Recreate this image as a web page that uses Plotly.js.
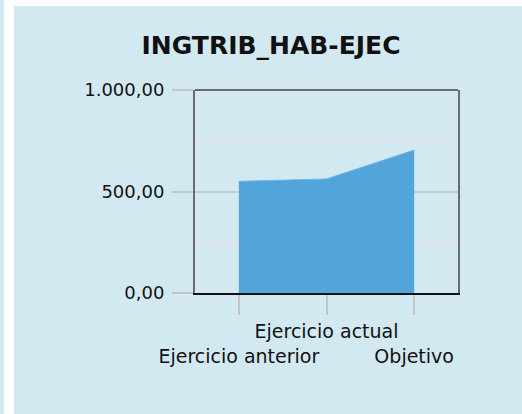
<!DOCTYPE html>
<html>
<head>
<meta charset="utf-8">
<script src="https://cdn.plot.ly/plotly-3.0.1.min.js"></script>
<style>
  html, body { margin: 0; padding: 0; background: #ffffff; width: 522px; height: 414px; overflow: hidden; }
  #strip { position: absolute; left: 0; top: 0; width: 4px; height: 414px; background: #d3e9f1; }
  #chart { position: absolute; left: 14px; top: 6px; width: 508px; height: 408px; }
</style>
</head>
<body>
<div id="strip"></div>
<div id="chart"></div>
<script>
const categories = ["Ejercicio anterior", "Ejercicio actual", "Objetivo"];
const tickLabels = ["<br>Ejercicio anterior", "Ejercicio actual", "<br>Objetivo"];
const values = [550, 562, 704];
const yTicks = [0, 500, 1000];

const trace = {
  type: "scatter",
  mode: "lines",
  x: categories,
  y: values,
  fill: "tozeroy",
  fillcolor: "#52a5db",
  line: { color: "#6cb6e6", width: 1 },
  hoverinfo: "x+y"
};

const layout = {
  width: 508,
  height: 408,
  paper_bgcolor: "#d3e9f1",
  plot_bgcolor: "#d3e9f1",
  separators: ",.",
  font: { family: "DejaVu Sans", color: "#111111", size: 18 },
  margin: { l: 181, r: 64, t: 84, b: 121, pad: 0 },
  showlegend: false,
  title: {
    text: "<b>INGTRIB_HAB-EJEC</b>",
    font: { family: "DejaVu Sans", size: 25, color: "#111111" },
    xref: "container", x: 0.506, xanchor: "center",
    yref: "container", y: 0.904, yanchor: "middle"
  },
  xaxis: {
    type: "category",
    range: [-0.5, 2.5],
    tickmode: "array",
    tickvals: categories,
    ticktext: tickLabels,
    tickangle: 0,
    ticks: "outside",
    ticklen: 20,
    tickwidth: 2,
    tickcolor: "#c4c4c4",
    tickfont: { family: "DejaVu Sans", size: 19, color: "#111111" },
    showgrid: false,
    showline: true,
    linecolor: "#111111",
    linewidth: 2,
    mirror: false,
    zeroline: false,
    fixedrange: true
  },
  yaxis: {
    range: [0, 1000],
    tickmode: "array",
    tickvals: yTicks,
    tickformat: ",.2f",
    ticks: "outside",
    ticklen: 21,
    tickwidth: 2,
    tickcolor: "#c4c4c4",
    ticklabelstandoff: 4,
    showgrid: true,
    gridcolor: "#c8c8c8",
    gridwidth: 2,
    minor: { dtick: 250, tick0: 0, showgrid: true, gridcolor: "#e2e2e2", gridwidth: 2, ticks: "" },
    showline: true,
    linecolor: "#6b6b6b",
    linewidth: 2,
    mirror: true,
    zeroline: false,
    fixedrange: true
  },
  shapes: [
    { type: "line", xref: "paper", yref: "paper", x0: 0, x1: 1, y0: 1, y1: 1,
      line: { color: "#6b6b6b", width: 2 }, layer: "above" }
  ]
};

Plotly.newPlot("chart", [trace], layout, { displayModeBar: false, staticPlot: true });
</script>
</body>
</html>
